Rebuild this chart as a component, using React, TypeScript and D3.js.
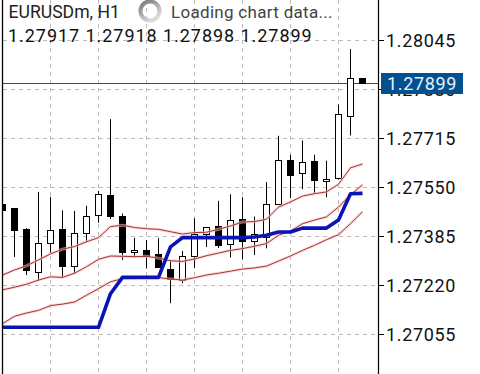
import React from "react";
import * as d3 from "d3";

const opens = [1.27491,1.27478,1.27407,1.27263,1.27361,1.27407,1.27283,1.27396,1.27455,1.27524,1.27453,1.27332,1.27339,1.27325,1.27275,1.27236,1.27317,1.27390,1.27420,1.27359,1.27443,1.27369,1.27382,1.27494,1.27642,1.27598,1.27639,1.27571,1.27579,1.27789,1.27917];
const highs = [1.27491,1.27481,1.27413,1.27535,1.27518,1.27473,1.27471,1.27488,1.27538,1.27780,1.27462,1.27380,1.27373,1.27379,1.27306,1.27336,1.27446,1.27417,1.27505,1.27527,1.27517,1.27452,1.27568,1.27724,1.27660,1.27708,1.27660,1.27640,1.27829,1.28016,1.27918];
const lows = [1.27474,1.27316,1.27255,1.27235,1.27329,1.27245,1.27259,1.27366,1.27431,1.27444,1.27306,1.27314,1.27277,1.27279,1.27160,1.27227,1.27278,1.27349,1.27346,1.27314,1.27308,1.27322,1.27345,1.27494,1.27514,1.27544,1.27531,1.27517,1.27577,1.27725,1.27898];
const closes = [1.27474,1.27405,1.27270,1.27362,1.27406,1.27283,1.27396,1.27453,1.27527,1.27453,1.27330,1.27338,1.27318,1.27280,1.27241,1.27317,1.27390,1.27416,1.27353,1.27440,1.27367,1.27390,1.27494,1.27641,1.27590,1.27635,1.27573,1.27578,1.27797,1.27918,1.27899];
const envelopeUpper = [1.27255,1.27272,1.27286,1.27306,1.27326,1.27342,1.27351,1.27367,1.27381,1.27418,1.27423,1.27415,1.27411,1.27409,1.27401,1.27393,1.27398,1.27399,1.27409,1.27420,1.27434,1.27435,1.27443,1.27484,1.27501,1.27521,1.27529,1.27535,1.27561,1.27616,1.27629];
const envelopeMiddle = [1.27205,1.27214,1.27224,1.27238,1.27249,1.27247,1.27261,1.27283,1.27308,1.27319,1.27318,1.27317,1.27318,1.27312,1.27303,1.27301,1.27309,1.27320,1.27329,1.27338,1.27344,1.27352,1.27361,1.27389,1.27403,1.27428,1.27440,1.27451,1.27484,1.27525,1.27559];
const envelopeLower = [1.27091,1.27116,1.27127,1.27136,1.27152,1.27157,1.27164,1.27187,1.27209,1.27232,1.27243,1.27246,1.27248,1.27246,1.27242,1.27238,1.27246,1.27255,1.27261,1.27268,1.27275,1.27279,1.27285,1.27302,1.27319,1.27338,1.27355,1.27374,1.27391,1.27428,1.27468];
const trend = [1.27079,1.27079,1.27079,1.27079,1.27079,1.27079,1.27079,1.27079,1.27079,1.27192,1.27247,1.27247,1.27247,1.27247,1.27350,1.27381,1.27381,1.27381,1.27381,1.27381,1.27381,1.27383,1.27389,1.27400,1.27400,1.27413,1.27413,1.27413,1.27440,1.27529,1.27530];
const priceTicks = ["1.28045","1.27880","1.27715","1.27550","1.27385","1.27220","1.27055"];
const gridBars = [4,8,12,16,20,24,28];
const bidPrice = "1.27899";
const titleText = "EURUSDm, H1";
const loadingText = "Loading chart data...";
const ohlcText = "1.27917 1.27918 1.27898 1.27899";

const W = 480, H = 374;
const x = d3.scaleLinear().domain([0, 30]).range([2.5, 362.5]);
const y = d3.scaleLinear().domain([1.27055, 1.28045]).range([334.4, 40.5]);
const line = d3.line<number>().x((_, i) => x(i)).y(d => y(d));
const snap = (v: number) => Math.round(v - 0.5) + 0.5;
const FONT = "Roboto, sans-serif";

export default function App() {
  const bands = [envelopeUpper, envelopeMiddle, envelopeLower];
  return (
    <svg width={W} height={H} style={{ position: "absolute", left: 0, top: 0, background: "#fff" }} fontFamily={FONT}>
      <defs>
        <clipPath id="plot"><rect x={3} y={0} width={375} height={H} /></clipPath>
        <linearGradient id="ring" x1="0" y1="0" x2="0.6" y2="1">
          <stop offset="0" stopColor="#777" />
          <stop offset="1" stopColor="#ddd" />
        </linearGradient>
      </defs>
      <g stroke="#bcbcbc" strokeWidth={1} strokeDasharray="4 4">
        {priceTicks.map(t => <line key={t} x1={3} x2={378} y1={snap(y(+t))} y2={snap(y(+t))} />)}
        {gridBars.map(i => <line key={i} x1={x(i)} x2={x(i)} y1={0} y2={H} />)}
      </g>
      <line x1={3} x2={378} y1={snap(y(+bidPrice))} y2={snap(y(+bidPrice))} stroke="#155a6c" strokeWidth={1} />
      <g clipPath="url(#plot)">
        {opens.map((o, i) => {
          const c = closes[i];
          const bull = c >= o;
          const top = snap(y(Math.max(o, c))), bot = snap(y(Math.min(o, c)));
          return (
            <g key={i}>
              <line x1={x(i)} x2={x(i)} y1={y(highs[i])} y2={y(lows[i])} stroke="#000" strokeWidth={1} />
              {bull
                ? <rect x={x(i) - 3} y={top} width={6} height={bot - top} fill="#fff" stroke="#000" strokeWidth={1} />
                : <rect x={x(i) - 3.5} y={top - 0.5} width={7} height={bot - top + 1} fill="#000" />}
            </g>
          );
        })}
        {bands.map((b, i) => <path key={"h" + i} d={line(b) || ""} fill="none" stroke="#f6c4c4" strokeWidth={3} opacity={0.6} />)}
        {bands.map((b, i) => <path key={"l" + i} d={line(b) || ""} fill="none" stroke="#a83232" strokeWidth={1} />)}
        <path d={line(trend) || ""} fill="none" stroke="#0a14b4" strokeWidth={3.6} strokeLinejoin="round" />
      </g>
      <line x1={2.5} x2={2.5} y1={0} y2={H} stroke="#000" strokeWidth={1.3} />
      <line x1={378.5} x2={378.5} y1={0} y2={H} stroke="#000" strokeWidth={1.2} />
      {priceTicks.map(t => (
        <g key={t}>
          <line x1={378.5} x2={384} y1={snap(y(+t))} y2={snap(y(+t))} stroke="#000" strokeWidth={1} />
          <text x={386} y={y(+t) + 6.5} fontSize={18} letterSpacing={0.65} fill="#111">{t}</text>
        </g>
      ))}
      <rect x={381} y={73} width={82} height={21} fill="#02508f" />
      <text x={387} y={y(+bidPrice) + 6.5} fontSize={18} letterSpacing={0.65} fill="#e8f0f8">{bidPrice}</text>
      <text x={8.5} y={18} fontSize={17.6} fill="#222">{titleText}</text>
      <circle cx={150} cy={11} r={9.5} fill="none" stroke="url(#ring)" strokeWidth={4} />
      <text x={171} y={18} fontSize={17} letterSpacing={0.3} fill="#444">{loadingText}</text>
      <text x={8} y={42} fontSize={18} letterSpacing={0.95} fill="#111">{ohlcText}</text>
    </svg>
  );
}
